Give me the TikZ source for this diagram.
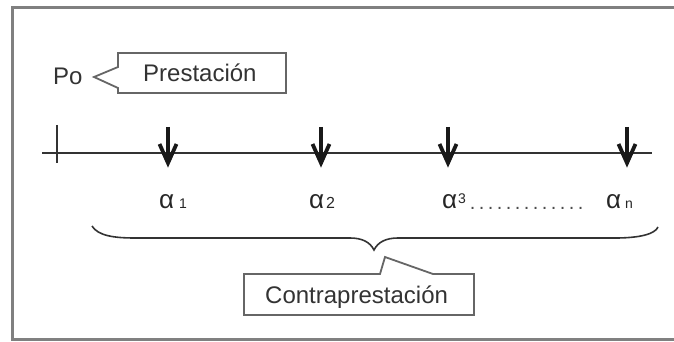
\documentclass[tikz,border=0pt]{standalone}
\usepackage{fontspec}
\setmainfont{Liberation Sans}
\begin{document}
\begin{tikzpicture}[x=1pt,y=-1pt,
  framecol/.style={draw=black!50,line width=3pt},
  callout/.style={draw=black!60,line width=1.8pt,fill=white,line join=miter},
  axis/.style={draw=black!80,line width=2pt},
  downarrow/.style={draw=black!90,line width=3.8pt,line join=miter},
  lbl/.style={anchor=base west,inner sep=0pt,text=black!80,font=\fontsize{24}{28}\selectfont},
  alab/.style={anchor=base west,inner sep=0pt,text=black!85,font=\fontsize{26}{28}\selectfont},
  bracecol/.style={draw=black!80,line width=1.6pt}]
\useasboundingbox (0,0) rectangle (674,342);
% frame (right side open)
\draw[framecol] (674,8) -- (12,8) -- (12,339) -- (674,339);
% timeline
\coordinate (tl) at (42,153);
\coordinate (tr) at (652,153);
\draw[axis] (tl) -- (tr);
\coordinate (tk1) at (57,125);
\coordinate (tk2) at (57,163);
\draw[axis,line width=1.6pt] (tk1) -- (tk2);
% arrows
\foreach \x [count=\i] in {168,321,448,627}{
  \coordinate (a\i top) at (\x,127);
  \coordinate (a\i tip) at (\x,163);
  \draw[downarrow] (a\i top) -- (a\i tip);
  \draw[downarrow] (\x-8.5,144) -- (a\i tip) -- (\x+8.5,144);
}
% Po and callout
\node[lbl] (po) at (53,85) {Po};
\coordinate (ptip) at (94,77);
\draw[callout] (118,53) -- (286,53) -- (286,93) -- (118,93) -- (118,88) -- (ptip) -- (118,67) -- cycle;
\node[lbl] (prest) at (143,82) {Prestación};
% alpha labels
\node[alab] (al1) at (159,208) {α\hspace{5pt}{\fontsize{14}{14}\selectfont 1}};
\node[alab] (al2) at (309,208) {α\hspace{2pt}{\fontsize{16}{16}\selectfont 2}};
\node[alab] (al3) at (442,208) {α\hspace{1pt}\raisebox{5pt}{\fontsize{14}{14}\selectfont 3}};
\node[alab] (aln) at (606,208) {α\hspace{4pt}{\fontsize{14}{14}\selectfont n}};
\node[anchor=base west,inner sep=0pt,text=black!70,font=\fontsize{20}{20}\selectfont] (dots) at (468,209)
  {\makebox[117pt][l]{\xleaders\hbox to 9pt{\hss.\hss}\hfill}};
% brace
\coordinate (bl) at (92,226);
\coordinate (br) at (658,227);
\coordinate (bm) at (374,250);
\draw[bracecol] (bl) .. controls (98,236) and (115,238) .. (135,238)
  -- (350,238) .. controls (362,238) and (370,242) .. (bm)
  .. controls (378,242) and (386,238) .. (398,238)
  -- (615,238) .. controls (640,238) and (655,234) .. (br);
% Contraprestacion callout
\coordinate (ctip) at (385,257);
\draw[callout] (244,274) -- (380,274) -- (ctip) -- (433,274) -- (474,274) -- (474,315) -- (244,315) -- cycle;
\node[lbl] (contra) at (265,303) {Contraprestación};
\end{tikzpicture}
\end{document}
